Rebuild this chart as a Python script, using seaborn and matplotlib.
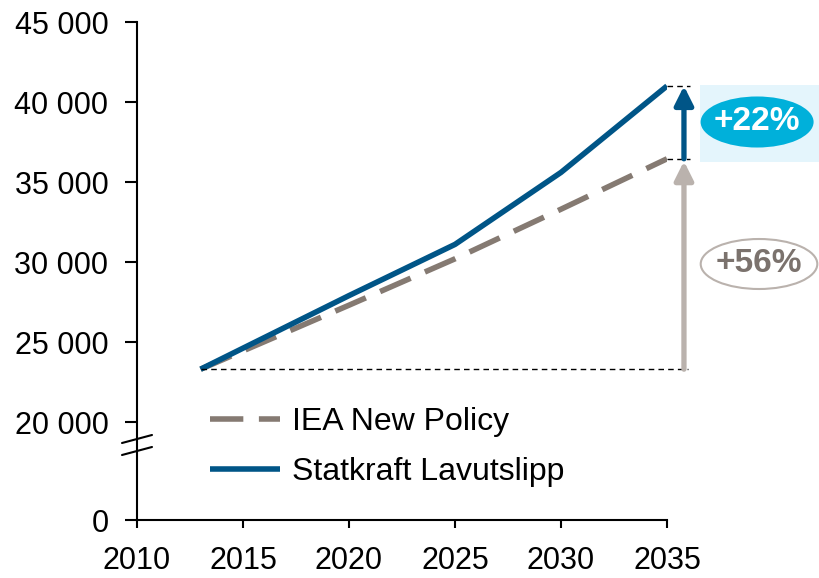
import numpy as np
import pandas as pd
import matplotlib
matplotlib.use("Agg")
import matplotlib.pyplot as plt
from matplotlib.patches import Ellipse, Rectangle
import seaborn as sns

years = [2013, 2020, 2025, 2030, 2035]
iea_new_policy = [23300, 27300, 30200, 33300, 36450]
statkraft_lavutslipp = [23300, 27900, 31100, 35600, 41000]
series_names = ["IEA New Policy", "Statkraft Lavutslipp"]

x_ticks = [2010, 2015, 2020, 2025, 2030, 2035]
y_tick_values = [0, 20000, 25000, 30000, 35000, 40000, 45000]
y_tick_labels = ["0", "20 000", "25 000", "30 000", "35 000", "40 000", "45 000"]
label_up_policy = "+56%"
label_up_statkraft = "+22%"

BLUE = "#005587"
GREY = "#857a72"
LIGHT_GREY = "#bab2ad"
CYAN = "#00b0da"
PALE = "#e4f5fc"

# broken axis: 0 sits 98 px (~6125 units) below 20 000
ZERO_POS = 13875


def ymap(v):
    v = np.asarray(v, dtype=float)
    return np.where(v <= 0, ZERO_POS, v)


sns.set_style("ticks")
plt.rcParams["font.family"] = ["Liberation Sans", "DejaVu Sans"]
plt.rcParams["text.color"] = "black"

fig = plt.figure(figsize=(8.19, 5.78), dpi=100)
ax = fig.add_axes([137 / 819, 58 / 578, 530 / 819, 498 / 578])

df = pd.DataFrame({"year": years * 2,
                   "value": ymap(iea_new_policy + statkraft_lavutslipp),
                   "series": [series_names[0]] * 5 + [series_names[1]] * 5})

sns.lineplot(data=df, x="year", y="value", hue="series", style="series",
             palette=[GREY, BLUE], dashes=[(6, 2.8), ""], linewidth=4,
             ax=ax)
for ln in ax.lines:
    ln.set_solid_capstyle("butt")
    ln.set_dash_capstyle("butt")

ax.set_xlim(2010, 2035)
ax.set_ylim(ZERO_POS, 45000)
ax.set_xticks(x_ticks)
ax.set_yticks(ymap(y_tick_values))
ax.set_yticklabels(y_tick_labels)
ax.set_xlabel("")
ax.set_ylabel("")
ax.tick_params(axis="y", direction="out", length=8.6, width=1.5, pad=12,
               labelsize=22, colors="black")
ax.tick_params(axis="x", direction="out", length=6, width=1.5, pad=13,
               labelsize=22, colors="black")
for s in ["left", "bottom"]:
    ax.spines[s].set_linewidth(1.5)
    ax.spines[s].set_color("black")
sns.despine(ax=ax)

# axis break marks
for y0 in (0.1305, 0.1546):
    ax.plot([-0.0283, 0.0283], [y0, y0 + 0.0161], color="black", lw=1.5,
            transform=ax.transAxes, clip_on=False)

# reference dashed lines
base = statkraft_lavutslipp[0]
ax.plot([years[0], 2036.0], [base, base], color="black", lw=1,
        ls=(0, (4, 3)), clip_on=False)
for v in (iea_new_policy[-1], statkraft_lavutslipp[-1]):
    ax.plot([2035, 2036.1], [v, v], color="black", lw=1, ls=(0, (4, 3)),
            clip_on=False)

# arrows
xa = 2035.8
ax.annotate("", xy=(xa, iea_new_policy[-1] - 150), xytext=(xa, base),
            arrowprops=dict(arrowstyle="-|>", color=LIGHT_GREY, lw=3.8,
                            mutation_scale=28, shrinkA=0, shrinkB=0),
            annotation_clip=False)
ax.annotate("", xy=(xa, statkraft_lavutslipp[-1]), xytext=(xa, iea_new_policy[-1]),
            arrowprops=dict(arrowstyle="-|>", color=BLUE, lw=3.8,
                            mutation_scale=28, shrinkA=0, shrinkB=0),
            annotation_clip=False)

# label boxes
ax.add_patch(Rectangle((2036.56, 36250), 5.7, 4810, facecolor=PALE,
                       edgecolor="none", clip_on=False, zorder=1))
ax.add_patch(Ellipse((2039.25, 38750), 5.33, 3190, facecolor=CYAN,
                     edgecolor="none", clip_on=False, zorder=2))
ax.text(2039.25, 38750, label_up_statkraft, color="white", fontsize=24,
        fontweight="bold", ha="center", va="center", zorder=3)
ax.add_patch(Ellipse((2039.34, 29875), 5.5, 3125, facecolor="white",
                     edgecolor=LIGHT_GREY, lw=1.5, clip_on=False, zorder=2))
ax.text(2039.34, 29875, label_up_policy, color="#7b726d", fontsize=24,
        fontweight="bold", ha="center", va="center", zorder=3)

leg = ax.legend(loc="upper left", bbox_to_anchor=(0.138, 0.226), frameon=False,
                fontsize=23, handlelength=2.2, handletextpad=0.35,
                labelspacing=0.62, borderpad=0, borderaxespad=0)
for t in leg.get_texts():
    t.set_color("black")

fig.savefig("out.png", dpi=100)
